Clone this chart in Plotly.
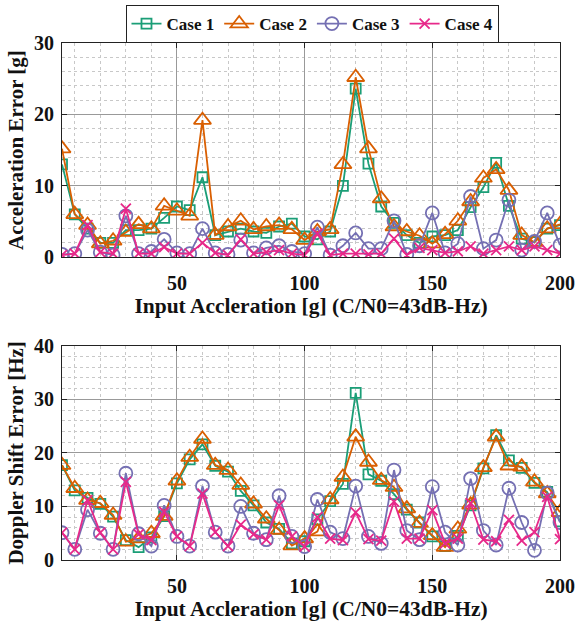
import plotly.graph_objects as go
from plotly.subplots import make_subplots

x = list(range(5, 201, 5))

acc_case1 = [13, 6, 4, 2, 2, 3.8, 3.8, 4, 5.5, 7.1, 6.6, 11.2, 3.1, 3.6, 4, 3.6, 3.4, 4.3, 4.7, 2.9,
             2.5, 3.6, 10, 23.6, 13.1, 7.1, 4.8, 3.1, 2, 2.9, 3.1, 3.8, 7, 9.8, 13.2, 7.2, 2.6, 2.1, 4, 4.5]
acc_case2 = [15.2, 6, 4.5, 1.9, 2.3, 3.5, 4.6, 4, 7.2, 6.5, 5.8, 19.2, 3.1, 4.3, 5.1, 3.9, 4.3, 4.5, 3.9, 2.4,
             3.6, 3.9, 13, 25.2, 15.2, 8.2, 4.3, 3.6, 3, 1.9, 3.2, 5.1, 7.8, 11.1, 12.3, 9.4, 3.1, 2.1, 4, 4.6]
acc_case3 = [0.4, 0.5, 3.8, 0.7, 0.3, 5.8, 0.5, 0.8, 2.5, 0.6, 0.5, 4, 0.6, 0.4, 2.4, 0.6, 1.3, 1.6, 0.8, 0.5,
             4.2, 0.3, 1.6, 3.4, 1.2, 1.2, 5.1, 0.4, 1.6, 6.2, 0.6, 1.9, 8.5, 1.2, 2.4, 8, 1, 2.2, 6.2, 1.7]
acc_case4 = [0.3, 0.5, 4.5, 0.7, 0.5, 6.8, 0.5, 0.5, 1.4, 0.5, 0.5, 2, 0.6, 0.3, 2.5, 0.5, 0.7, 1, 0.5, 0.3,
             3.3, 0.3, 0.5, 0.5, 0.4, 0.5, 2.6, 0.3, 1.3, 1, 0.6, 0.8, 1.5, 0.5, 1, 1.5, 1, 1.5, 1, 0.5]

dop_case1 = [17.7, 13, 11.6, 10.5, 8.1, 3.7, 2.4, 4.2, 8.2, 14.3, 18.8, 21.6, 17.6, 16.5, 12.9, 10.2, 7, 5.8, 3.1, 3.5,
             7.6, 11, 14.2, 31.2, 16, 14.8, 12.3, 9.4, 7, 4.4, 2.6, 4.5, 10.2, 17.1, 23.3, 18.6, 17.2, 14.4, 12.7, 7.2]
dop_case2 = [17.7, 13.4, 11.2, 10.6, 8.4, 3.4, 4, 5, 8.2, 14.8, 19.2, 22.6, 17.7, 16.8, 14, 10.5, 7.7, 5.6, 2.7, 4,
             5.3, 11.3, 15.5, 23, 18.3, 14.9, 13.6, 9.6, 6.9, 4.6, 2.4, 5.8, 10.3, 17.3, 23, 17.6, 17.4, 14.6, 12.4, 8.9]
dop_case3 = [5.1, 2, 9.4, 5, 2, 16.2, 4.9, 2.6, 10.2, 4.4, 2.6, 13.8, 5.2, 2.6, 10, 5, 3.8, 12, 4.4, 2.5,
             11.3, 5.2, 4, 13.8, 4.4, 3.1, 16.8, 5.5, 3.8, 13.7, 5.2, 2.8, 15.2, 5.5, 2.8, 13.4, 7, 1.8, 12.5, 7]
dop_case4 = [5.1, 2, 11.2, 5.1, 2, 14.6, 4.8, 3.7, 9, 4.4, 2.6, 12.4, 5.2, 2.6, 6.6, 4.8, 3.8, 10.2, 4.4, 2.5,
             8, 4, 3.7, 8.9, 3.9, 3.6, 10.9, 4, 4, 9.3, 3.1, 4, 10.6, 3.8, 3.5, 7.5, 3.6, 5.2, 11.8, 3.9]

case_names = ["Case 1", "Case 2", "Case 3", "Case 4"]
colors = ["#1b9e77", "#d95f02", "#7570b3", "#e7298a"]
symbols = ["square-open", "triangle-up-open", "circle-open", "x-thin-open"]
sizes = [10, 15, 13, 10]

acc = [acc_case1, acc_case2, acc_case3, acc_case4]
dop = [dop_case1, dop_case2, dop_case3, dop_case4]

fig = make_subplots(rows=2, cols=1, vertical_spacing=0.1714)

for i in range(4):
    for row, data in ((1, acc), (2, dop)):
        fig.add_trace(go.Scatter(
            x=x, y=data[i], mode="lines+markers", name=case_names[i],
            legendgroup=case_names[i], showlegend=(row == 1),
            line=dict(color=colors[i], width=1.8),
            marker=dict(symbol=symbols[i], size=sizes[i], color=colors[i],
                        line=dict(color=colors[i], width=1.8)),
        ), row=row, col=1)

font_family = "Liberation Serif"
axis_common = dict(
    showline=True, linecolor="#222", linewidth=1.2, mirror="ticks",
    ticks="inside", ticklen=5, tickcolor="#222",
    showgrid=True, gridcolor="#999", gridwidth=1,
    zeroline=False, automargin=False,
    tickfont=dict(family=font_family, size=20, color="#111", weight="bold"),
)

for r in (1, 2):
    fig.update_xaxes(
        range=[5, 200], tickmode="array", tickvals=[50, 100, 150, 200],
        ticklabelstandoff=8,
        minor=dict(dtick=10, tick0=0, showgrid=True, gridcolor="#c8c8c8", griddash="dot", ticks=""),
        title=dict(text="<b>Input Accleration [g] (C/N0=43dB-Hz)</b>",
                   font=dict(family=font_family, size=21.5, color="#111"), standoff=2),
        row=r, col=1, **axis_common)

fig.update_yaxes(range=[0, 30], tickvals=[0, 10, 20, 30], ticklabelstandoff=3,
                 minor=dict(dtick=2, showgrid=True, gridcolor="#c8c8c8", griddash="dot", ticks=""),
                 title=dict(text="<b>Acceleration Error [g]</b>",
                            font=dict(family=font_family, size=21, color="#111"), standoff=4),
                 row=1, col=1, **axis_common)
fig.update_yaxes(range=[0, 40], tickvals=[0, 10, 20, 30, 40], ticklabelstandoff=3,
                 minor=dict(dtick=2, showgrid=True, gridcolor="#c8c8c8", griddash="dot", ticks=""),
                 title=dict(text="<b>Doppler Shift Error [Hz]</b>",
                            font=dict(family=font_family, size=21, color="#111"), standoff=4),
                 row=2, col=1, **axis_common)

fig.update_layout(
    width=576, height=623,
    margin=dict(l=62, r=16, t=41, b=63),
    paper_bgcolor="white", plot_bgcolor="white",
    legend=dict(orientation="h", x=0.504, xanchor="center", xref="paper",
                y=1 - 5 / 623, yanchor="top", yref="container",
                bordercolor="#222", borderwidth=1, bgcolor="white",
                font=dict(family=font_family, size=17, color="#111", weight="bold"),
                itemwidth=30, tracegroupgap=0),
)

fig.write_html("out.html", config={"displayModeBar": False},
               post_script="document.body.style.margin='0';")
